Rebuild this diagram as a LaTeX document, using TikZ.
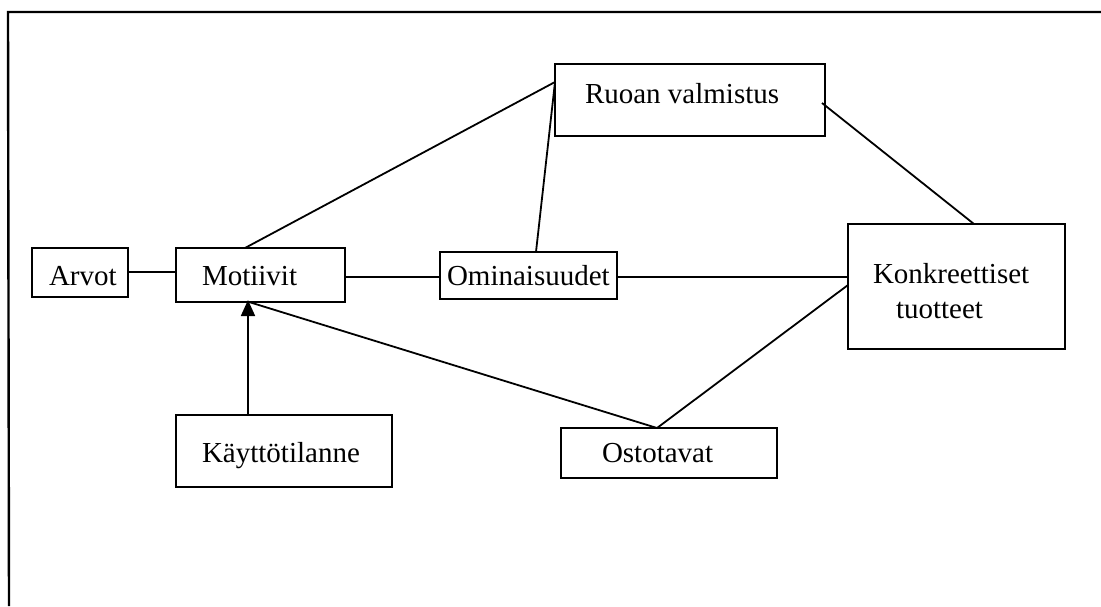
\documentclass[tikz,border=0pt]{standalone}
\usepackage{fontspec}
\setmainfont{Liberation Serif}
\usetikzlibrary{arrows.meta}

\begin{document}
\begin{tikzpicture}[x=1pt,y=-1pt,
  boxnode/.style={draw,line width=2pt,anchor=north west,inner sep=0pt,outer sep=0pt},
  lbl/.style={anchor=base west,inner sep=0pt,outer sep=0pt,font=\fontsize{29}{35}\selectfont},
  link/.style={line width=1.8pt},
  tip/.style={-{Triangle[length=16pt,width=14pt]}}]
  \useasboundingbox (0,0) rectangle (1101,606);

  % open frame: top and left edges
  \coordinate (ftop) at (8,12);
  \coordinate (fright) at (1101,12);
  \coordinate (fbottom) at (9,606);
  \draw[line width=2.4pt] (fright) -- (ftop) -- (fbottom);

  % boxes
  \node[boxnode,minimum width=96pt,minimum height=49pt]  (arvot)    at (32,248)  {};
  \node[boxnode,minimum width=169pt,minimum height=54pt] (motiivit) at (176,248) {};
  \node[boxnode,minimum width=177pt,minimum height=47pt] (omin)     at (440,252) {};
  \node[boxnode,minimum width=270pt,minimum height=72pt] (ruoan)    at (555,64)  {};
  \node[boxnode,minimum width=217pt,minimum height=125pt](konk)     at (848,224) {};
  \node[boxnode,minimum width=216pt,minimum height=72pt] (kaytto)   at (176,415) {};
  \node[boxnode,minimum width=216pt,minimum height=50pt] (osto)     at (561,428) {};

  % labels
  \node[lbl] (tarvot)  at (49,285)  {Arvot};
  \node[lbl] (tmot)    at (202,285) {Motiivit};
  \node[lbl] (tomin)   at (447,285) {Ominaisuudet};
  \node[lbl] (truoan)  at (585,103) {Ruoan valmistus};
  \node[lbl] (tkonk1)  at (873,283) {Konkreettiset};
  \node[lbl] (tkonk2)  at (896,318) {tuotteet};
  \node[lbl] (tkaytto) at (202,462) {Käyttötilanne};
  \node[lbl] (tosto)   at (602,462) {Ostotavat};

  % connectors (yshift is in page direction: negative moves down)
  \coordinate (ruoanin) at ([yshift=-18pt]ruoan.north west);
  \coordinate (motbot)  at ([xshift=73pt]motiivit.south west);
  \draw[link] ([yshift=-24pt]arvot.north east) -- ([yshift=-24pt]arvot.north east -| motiivit.west);
  \draw[link] ([yshift=-29pt]motiivit.north east) -- ([yshift=-29pt]motiivit.north east -| omin.west);
  \draw[link] ([yshift=-25pt]omin.north east) -- ([yshift=-25pt]omin.north east -| konk.west);
  \draw[link] ([xshift=69pt]motiivit.north west) -- (ruoanin);
  \draw[link] ([xshift=96pt]omin.north west) -- (ruoanin);
  \draw[link] ([xshift=-3pt,yshift=-39pt]ruoan.north east) -- ([xshift=126pt]konk.north west);
  \draw[link] ([yshift=-61pt]konk.north west) -- ([xshift=96pt]osto.north west);
  \draw[link] ([xshift=96pt]osto.north west) -- (motbot);
  \draw[link,tip] ([xshift=72pt]kaytto.north west) -- ([xshift=72pt,yshift=2pt]motiivit.south west);
\end{tikzpicture}
\end{document}
